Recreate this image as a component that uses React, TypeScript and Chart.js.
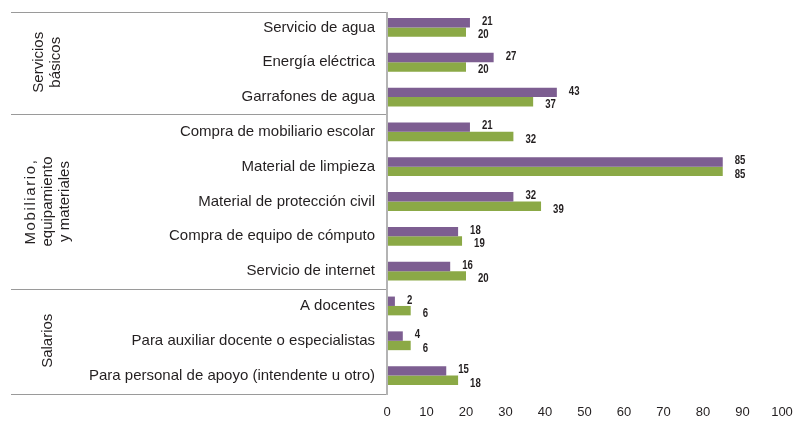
import React, { useEffect, useRef } from "react";
import { Chart, registerables } from "chart.js";

Chart.register(...registerables);

const categories = [
  "Servicio de agua",
  "Energía eléctrica",
  "Garrafones de agua",
  "Compra de mobiliario escolar",
  "Material de limpieza",
  "Material de protección civil",
  "Compra de equipo de cómputo",
  "Servicio de internet",
  "A docentes",
  "Para auxiliar docente o especialistas",
  "Para personal de apoyo (intendente u otro)",
];

const seriesPurple = [21, 27, 43, 21, 85, 32, 18, 16, 2, 4, 15];
const seriesGreen = [20, 20, 37, 32, 85, 39, 19, 20, 6, 6, 18];

const groupLabels = [
  ["Servicios", "básicos"],
  ["Mobiliario,", "equipamiento", "y materiales"],
  ["Salarios"],
];
// index range [start, end] of categories in each group
const groupRanges = [
  [0, 2],
  [3, 7],
  [8, 10],
];

const xTicks = [0, 10, 20, 30, 40, 50, 60, 70, 80, 90, 100];

const PURPLE = "#7D5E91";
const GREEN = "#8BA946";
const TEXT = "#231F20";
const LINE = "#9a9a9a";
const FONT = "'Liberation Sans', Arial, Helvetica, sans-serif";
const LABEL_FONT = "bold 12px 'Liberation Sans', Arial, sans-serif";

const overlayPlugin = {
  id: "overlay",
  afterDraw(chart: any) {
    const ctx = chart.ctx;
    const y = chart.scales.y;
    const area = chart.chartArea;
    ctx.save();
    // separator lines
    const bounds: number[] = [];
    groupRanges.forEach((r, i) => {
      if (i === 0) bounds.push(y.getPixelForValue(r[0] - 0.5) + 2);
      bounds.push(y.getPixelForValue(r[1] + 0.5) + (i === groupRanges.length - 1 ? 1 : 0));
    });
    ctx.strokeStyle = LINE;
    ctx.lineWidth = 1;
    bounds.forEach((b) => {
      const yy = Math.round(b) + 0.5;
      ctx.beginPath();
      ctx.moveTo(11, yy);
      ctx.lineTo(area.left, yy);
      ctx.stroke();
    });
    // vertical axis line
    ctx.beginPath();
    ctx.moveTo(Math.round(area.left), Math.round(bounds[0]));
    ctx.lineTo(Math.round(area.left), Math.round(bounds[bounds.length - 1]) + 1);
    ctx.strokeStyle = "#b4b4b4";
    ctx.lineWidth = 2;
    ctx.stroke();

    // group labels (rotated)
    ctx.fillStyle = TEXT;
    ctx.font = "15px " + FONT;
    ctx.textAlign = "center";
    ctx.textBaseline = "middle";
    groupRanges.forEach((r, i) => {
      const top = y.getPixelForValue(r[0] - 0.5);
      const bot = y.getPixelForValue(r[1] + 0.5);
      const cy = (top + bot) / 2;
      const lines = groupLabels[i];
      const lh = 17;
      const cx = 47.5;
      lines.forEach((t, j) => {
        const x = cx + (j - (lines.length - 1) / 2) * lh;
        ctx.save();
        ctx.translate(x, cy);
        ctx.rotate(-Math.PI / 2);
        (ctx as any).letterSpacing = t === "Mobiliario," ? "1.6px" : "0px";
        ctx.fillText(t, 0, 0);
        ctx.restore();
      });
    });

    // value labels (condensed bold)
    ctx.font = LABEL_FONT;
    ctx.textAlign = "left";
    ctx.textBaseline = "middle";
    ctx.fillStyle = TEXT;
    chart.data.datasets.forEach((ds: any, di: number) => {
      const meta = chart.getDatasetMeta(di);
      meta.data.forEach((bar: any, i: number) => {
        const v = ds.data[i];
        ctx.save();
        ctx.translate(bar.x + 12, bar.y + (di === 0 ? -1 : 3));
        ctx.scale(0.8, 1);
        ctx.fillText(String(v), 0, 0);
        ctx.restore();
      });
    });
    ctx.restore();
  },
};

export default function App() {
  const ref = useRef<HTMLCanvasElement>(null);
  useEffect(() => {
    document.body.style.margin = "0";
    const chart = new Chart(ref.current!, {
      type: "bar",
      data: {
        labels: categories,
        datasets: [
          { data: seriesPurple, backgroundColor: PURPLE, categoryPercentage: 0.54, barPercentage: 1 },
          { data: seriesGreen, backgroundColor: GREEN, categoryPercentage: 0.54, barPercentage: 1 },
        ],
      },
      options: {
        indexAxis: "y",
        animation: false,
        responsive: false,
        layout: { padding: { top: 10, right: 11, left: 0, bottom: 0 } },
        plugins: { legend: { display: false }, tooltip: { enabled: false } },
        scales: {
          x: {
            min: 0,
            max: 100,
            afterBuildTicks(scale: any) {
              scale.ticks = xTicks.map((v) => ({ value: v }));
            },
            afterFit(scale: any) {
              scale.height = 49;
              scale.paddingLeft = 0;
              scale.paddingRight = 0;
            },
            grid: { display: false, drawTicks: false },
            border: { display: false },
            ticks: { color: TEXT, font: { family: FONT, size: 13 }, padding: 12 },
          },
          y: {
            afterFit(scale: any) {
              scale.width = 387;
              scale.paddingTop = 0;
              scale.paddingBottom = 0;
            },
            grid: { display: false, drawTicks: false },
            border: { display: false },
            ticks: { color: TEXT, font: { family: FONT, size: 15 }, padding: 12 },
          },
        },
      },
      plugins: [overlayPlugin],
    });
    return () => chart.destroy();
  }, []);
  return (
    <div style={{ width: 793, height: 442 }}>
      <canvas ref={ref} width={793} height={442} />
    </div>
  );
}
